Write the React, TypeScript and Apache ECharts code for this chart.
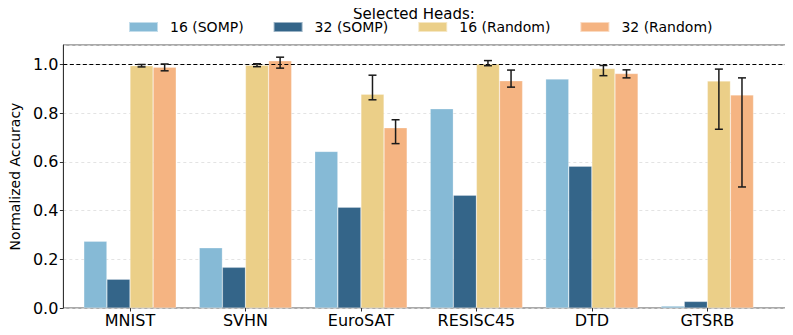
import React, { useEffect, useRef } from "react";
import * as echarts from "echarts";

const categories = ["MNIST", "SVHN", "EuroSAT", "RESISC45", "DTD", "GTSRB"];
const seriesNames = ["16 (SOMP)", "32 (SOMP)", "16 (Random)", "32 (Random)"];
const somp16 = [0.274, 0.247, 0.643, 0.818, 0.94, 0.008];
const somp32 = [0.118, 0.167, 0.414, 0.463, 0.582, 0.027];
const rand16 = [0.995, 0.997, 0.878, 1.002, 0.984, 0.932];
const rand32 = [0.989, 1.015, 0.74, 0.933, 0.963, 0.875];
const rand16Low = [0.99, 0.991, 0.855, 0.995, 0.954, 0.734];
const rand16High = [1.0, 1.003, 0.956, 1.016, 0.996, 0.981];
const rand32Low = [0.974, 0.985, 0.675, 0.907, 0.945, 0.497];
const rand32High = [1.002, 1.03, 0.773, 0.977, 0.978, 0.945];
const yTicks = [0, 0.2, 0.4, 0.6, 0.8, 1.0];
const referenceLine = 1.0;

const colors = ["#86BAD6", "#346589", "#EBCF88", "#F5B482"];
const FONT = "DejaVu Sans";

export default function App() {
  const ref = useRef<HTMLDivElement>(null);
  useEffect(() => {
    if (!ref.current) return;
    const chart = echarts.init(ref.current, undefined, { renderer: "svg" });

    const errSeries = (low: number[], high: number[], sIdx: number) => ({
      type: "custom",
      xAxisIndex: 1,
      yAxisIndex: 1,
      z: 10,
      silent: true,
      data: categories.map((_, i) => [i, low[i], high[i]]),
      encode: { x: 0, y: [1, 2] },
      renderItem: (params: any, api: any) => {
        const idx = api.value(0);
        const band = api.size([1, 0])[0];
        const c = api.coord([idx, 0]);
        const x = c[0] + (sIdx - 1.5) * band * 0.2;
        const yl = api.coord([idx, api.value(1)])[1];
        const yh = api.coord([idx, api.value(2)])[1];
        const cap = 4;
        const style = { stroke: "#1a1a1a", lineWidth: 1.5 };
        return {
          type: "group",
          children: [
            { type: "line", shape: { x1: x, y1: yl, x2: x, y2: yh }, style },
            { type: "line", shape: { x1: x - cap, y1: yl, x2: x + cap, y2: yl }, style },
            { type: "line", shape: { x1: x - cap, y1: yh, x2: x + cap, y2: yh }, style },
          ],
        };
      },
    });

    const values = [somp16, somp32, rand16, rand32];

    chart.setOption({
      animation: false,
      textStyle: { fontFamily: FONT },
      title: {
        text: "Selected Heads:",
        left: 348,
        top: 0,
        padding: [5, 5, 5, 5],
        textStyle: { fontFamily: FONT, fontSize: 15, fontWeight: "normal", color: "#000", lineHeight: 18 },
      },
      legend: {
        data: seriesNames,
        left: 123,
        top: 15,
        icon: "rect",
        itemWidth: 29,
        itemHeight: 10,
        itemGap: 29,
        textStyle: { fontFamily: FONT, fontSize: 14, color: "#000", padding: [0, 0, 0, 7] },
      },
      grid: [
        {
          left: 50,
          top: 45,
          width: 737,
          height: 263,
          show: true,
          borderColor: "#555",
          borderWidth: 1,
          backgroundColor: "transparent",
        },
        {
          left: 72.27,
          top: 45,
          width: 692.8,
          height: 263,
        },
      ],
      xAxis: [
        { type: "value", gridIndex: 0, min: 0, max: 1, show: false },
        {
          type: "category",
          gridIndex: 1,
          data: categories,
          boundaryGap: true,
          axisLine: { show: false },
          axisTick: { show: true, alignWithLabel: true, length: 3.5, inside: false, lineStyle: { color: "#333" } },
          axisLabel: { fontFamily: FONT, fontSize: 16, color: "#000", margin: 4 },
          splitLine: { show: false },
        },
      ],
      yAxis: [
        {
          type: "value",
          gridIndex: 0,
          min: 0,
          max: 1.08,
          interval: 0.2,
          name: "Normalized Accuracy",
          nameLocation: "middle",
          nameGap: 32,
          nameTextStyle: { fontFamily: FONT, fontSize: 14, color: "#000" },
          axisLine: { show: true, lineStyle: { color: "#333", width: 1 } },
          axisTick: { show: true, length: 3.5, lineStyle: { color: "#333" } },
          axisLabel: {
            fontFamily: FONT,
            fontSize: 16,
            color: "#000",
            margin: 5,
            showMaxLabel: false,
            formatter: (v: number) =>
              yTicks.some((t) => Math.abs(t - v) < 1e-6) ? v.toFixed(1) : "",
          },
          splitLine: {
            show: true,
            lineStyle: { color: "#dcdcdc", type: [3, 3], width: 0.8 },
          },
        },
        { type: "value", gridIndex: 1, min: 0, max: 1.08, show: false },
      ],
      series: [
        ...seriesNames.map((name, s) => ({
          name,
          type: "bar",
          xAxisIndex: 1,
          yAxisIndex: 1,
          barWidth: "20%",
          barGap: "0%",
          z: 3,
          itemStyle: { color: colors[s], borderColor: "rgba(255,255,255,0.5)", borderWidth: 0.5 },
          data: values[s],
        })),
        errSeries(rand16Low, rand16High, 2),
        errSeries(rand32Low, rand32High, 3),
        {
          type: "custom",
          xAxisIndex: 0,
          yAxisIndex: 0,
          z: 8,
          silent: true,
          data: [[0, referenceLine]],
          renderItem: (params: any, api: any) => {
            const p0 = api.coord([0, api.value(1)]);
            const p1 = api.coord([1, api.value(1)]);
            return {
              type: "line",
              shape: { x1: p0[0], y1: p0[1], x2: p1[0], y2: p1[1] },
              style: { stroke: "#000", lineWidth: 1.2, lineDash: [4, 2.5] },
            };
          },
        },
      ],
    });
    return () => chart.dispose();
  }, []);
  return <div ref={ref} style={{ width: 793, height: 335, margin: -8 }} />;
}
